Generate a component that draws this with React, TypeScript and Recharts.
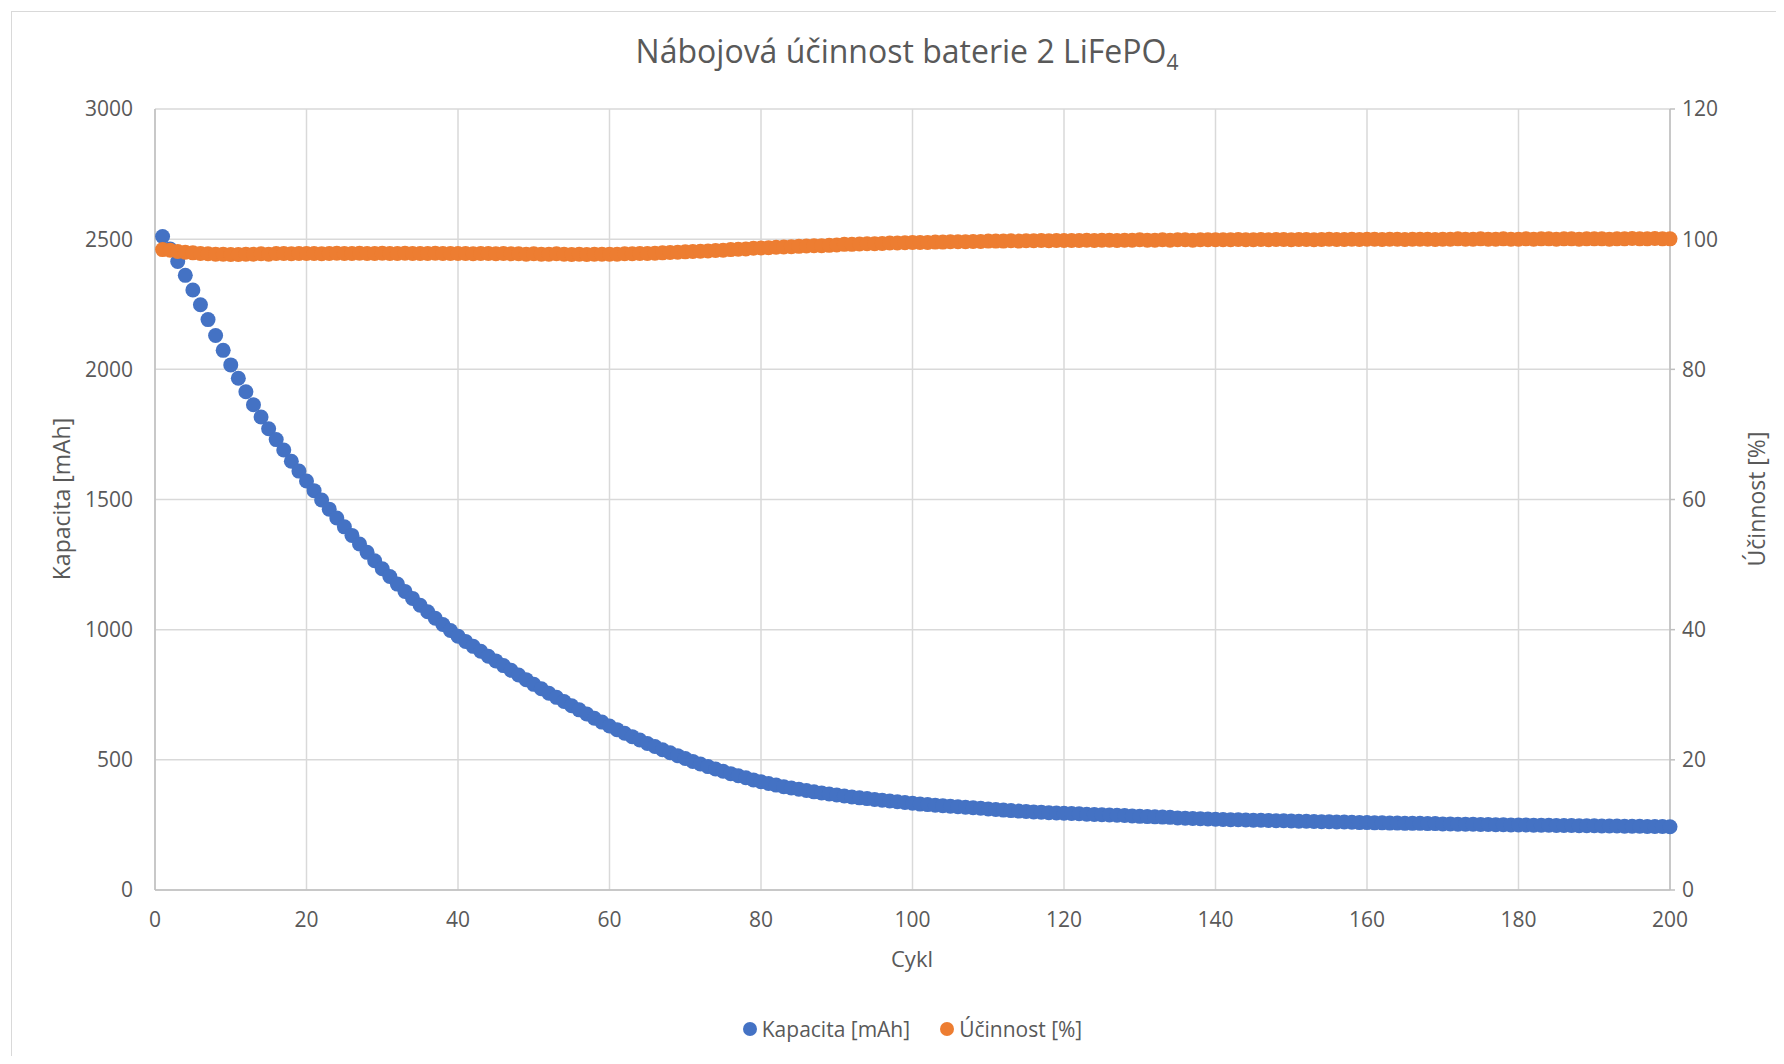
import { ScatterChart, Scatter, XAxis, YAxis, CartesianGrid, Label } from "recharts";

const cycles = Array.from({ length: 200 }, (_, i) => i + 1);

const capacity = [
  2510, 2462, 2414, 2361, 2305, 2248, 2191, 2130, 2073, 2017,
  1966, 1914, 1864, 1817, 1772, 1730, 1690, 1647, 1609, 1571,
  1534, 1498, 1463, 1429, 1395, 1362, 1329, 1297, 1265, 1234,
  1204, 1175, 1147, 1120, 1094, 1069, 1044, 1020, 997, 975,
  955, 936, 917, 898, 880, 862, 844, 826, 808, 790,
  773, 756, 740, 724, 708, 692, 676, 660, 645, 630,
  616, 602, 589, 576, 563, 551, 539, 527, 516, 505,
  494, 484, 474, 465, 456, 447, 439, 431, 423, 416,
  409, 403, 397, 392, 387, 382, 377, 373, 369, 365,
  361, 357, 354, 351, 348, 345, 342, 339, 336, 333,
  330, 328, 326, 324, 322, 320, 318, 316, 314, 311,
  309, 307, 305, 303, 302, 300, 299, 297, 296, 295,
  294, 293, 291, 290, 289, 288, 287, 286, 284, 283,
  282, 281, 280, 279, 277, 276, 275, 274, 273, 272,
  271, 270, 270, 269, 268, 268, 267, 266, 266, 265,
  264, 264, 263, 262, 262, 261, 261, 260, 259, 259,
  258, 258, 257, 257, 256, 256, 256, 255, 255, 254,
  254, 253, 253, 253, 252, 252, 251, 251, 250, 250,
  250, 249, 249, 249, 248, 248, 248, 247, 247, 247,
  246, 246, 246, 245, 245, 245, 244, 244, 244, 243,
];

const efficiency = [
  98.4, 98.3, 98.1, 98.0, 97.9, 97.8, 97.75, 97.7, 97.7, 97.65,
  97.65, 97.7, 97.7, 97.75, 97.7, 97.8, 97.8, 97.75, 97.8, 97.8,
  97.8, 97.75, 97.8, 97.85, 97.8, 97.8, 97.85, 97.8, 97.8, 97.85,
  97.8, 97.8, 97.85, 97.8, 97.8, 97.8, 97.85, 97.8, 97.8, 97.8,
  97.8, 97.75, 97.8, 97.8, 97.75, 97.8, 97.75, 97.75, 97.7, 97.75,
  97.7, 97.7, 97.75, 97.7, 97.65, 97.7, 97.65, 97.7, 97.7, 97.7,
  97.7, 97.75, 97.75, 97.8, 97.8, 97.85, 97.9, 97.95, 98.0, 98.05,
  98.1, 98.15, 98.2, 98.25, 98.3, 98.4, 98.45, 98.5, 98.6, 98.65,
  98.7, 98.75, 98.8, 98.85, 98.9, 98.95, 99.0, 99.0, 99.05, 99.1,
  99.2, 99.2, 99.25, 99.3, 99.3, 99.35, 99.4, 99.4, 99.45, 99.5,
  99.5, 99.5, 99.55, 99.55, 99.6, 99.6, 99.6, 99.65, 99.65, 99.7,
  99.7, 99.7, 99.75, 99.7, 99.75, 99.75, 99.8, 99.75, 99.8, 99.8,
  99.8, 99.8, 99.85, 99.8, 99.85, 99.85, 99.8, 99.85, 99.85, 99.9,
  99.85, 99.85, 99.9, 99.85, 99.9, 99.9, 99.85, 99.9, 99.9, 99.9,
  99.9, 99.9, 99.95, 99.9, 99.9, 99.95, 99.9, 99.95, 99.95, 99.9,
  99.95, 99.95, 99.9, 99.95, 100.0, 99.95, 99.95, 100.0, 99.95, 100.0,
  100.0, 99.95, 100.0, 100.0, 99.95, 100.0, 100.0, 100.0, 99.95, 100.0,
  100.0, 100.05, 100.0, 100.0, 100.05, 100.0, 100.0, 100.05, 100.0, 100.0,
  100.05, 100.0, 100.05, 100.05, 100.0, 100.05, 100.05, 100.0, 100.05, 100.05,
  100.05, 100.0, 100.05, 100.05, 100.1, 100.05, 100.05, 100.1, 100.05, 100.05,
];

const xTicks = [0, 20, 40, 60, 80, 100, 120, 140, 160, 180, 200];
const capTicks = [0, 500, 1000, 1500, 2000, 2500, 3000];
const effTicks = [0, 20, 40, 60, 80, 100, 120];

const BLUE = "#4472C4";
const ORANGE = "#ED7D31";
const TEXT = "#595959";
const FONT = "'Open Sans', sans-serif";

const capData = cycles.map((c, i) => ({ x: c, y: capacity[i] }));
const effData = cycles.map((c, i) => ({ x: c, y: efficiency[i] }));

const dot = (color: string) => (props: any) =>
  <circle cx={props.cx} cy={props.cy} r={7.5} fill={color} />;

const tickStyle = { fill: TEXT, fontSize: 21, fontFamily: FONT };

export default function App() {
  return (
    <div
      style={{
        position: "relative",
        width: 1784,
        height: 1064,
        margin: -8,
        overflow: "hidden",
        background: "#fff",
        fontFamily: FONT,
      }}
    >
      <div
        style={{
          position: "absolute",
          left: 11,
          top: 11,
          width: 1800,
          height: 1100,
          border: "1.5px solid #d9d9d9",
        }}
      />
      <div
        style={{
          position: "absolute",
          top: 29,
          left: 0,
          width: 1814,
          textAlign: "center",
          fontSize: 32,
          color: TEXT,
        }}
      >
        Nábojová účinnost baterie 2 LiFePO<sub style={{ fontSize: 21 }}>4</sub>
      </div>

      <div style={{ position: "absolute", left: 0, top: 0 }}>
        <ScatterChart
          width={1784}
          height={1064}
          margin={{ top: 109, right: 0, bottom: 114, left: 0 }}
        >
          <CartesianGrid yAxisId="left" stroke="#d9d9d9" strokeWidth={1.5} verticalValues={xTicks} />
          <XAxis
            type="number"
            dataKey="x"
            domain={[0, 200]}
            ticks={xTicks}
            height={60}
            axisLine={{ stroke: "#bfbfbf", strokeWidth: 1.5 }}
            tickLine={false}
            tickSize={0}
            tickMargin={22}
            tick={tickStyle}
          >
            <Label
              content={() => (
                <text x={912} y={967} textAnchor="middle" fill={TEXT} fontSize={22} fontFamily={FONT}>
                  Cykl
                </text>
              )}
            />
          </XAxis>
          <YAxis
            yAxisId="left"
            type="number"
            dataKey="y"
            domain={[0, 3000]}
            ticks={capTicks}
            width={155}
            axisLine={{ stroke: "#bfbfbf", strokeWidth: 1.5 }}
            tickLine={false}
            tickSize={0}
            tickMargin={22}
            tick={tickStyle}
          >
            <Label
              content={() => (
                <text
                  x={61}
                  y={499}
                  transform="rotate(-90 61 499)"
                  textAnchor="middle"
                  dominantBaseline="central"
                  fill={TEXT}
                  fontSize={23}
                  fontFamily={FONT}
                >
                  Kapacita [mAh]
                </text>
              )}
            />
          </YAxis>
          <YAxis
            yAxisId="right"
            orientation="right"
            type="number"
            dataKey="y"
            domain={[0, 120]}
            ticks={effTicks}
            width={114}
            axisLine={{ stroke: "#bfbfbf", strokeWidth: 1.5 }}
            tickLine={{ stroke: "#bfbfbf", strokeWidth: 1.5 }}
            tickSize={5}
            tickMargin={7}
            tick={tickStyle}
          >
            <Label
              content={() => (
                <text
                  x={1756}
                  y={499}
                  transform="rotate(-90 1756 499)"
                  textAnchor="middle"
                  dominantBaseline="central"
                  fill={TEXT}
                  fontSize={23}
                  fontFamily={FONT}
                >
                  Účinnost [%]
                </text>
              )}
            />
          </YAxis>
          <Scatter
            name="Kapacita [mAh]"
            data={capData}
            yAxisId="left"
            fill={BLUE}
            shape={dot(BLUE)}
            isAnimationActive={false}
          />
          <Scatter
            name="Účinnost [%]"
            data={effData}
            yAxisId="right"
            fill={ORANGE}
            shape={dot(ORANGE)}
            isAnimationActive={false}
          />
        </ScatterChart>
      </div>

      <div
        style={{
          position: "absolute",
          left: 155,
          width: 1515,
          top: 1015,
          display: "flex",
          justifyContent: "center",
          alignItems: "center",
          fontSize: 21,
          color: TEXT,
          gap: 30,
        }}
      >
        {[
          ["Kapacita [mAh]", BLUE],
          ["Účinnost [%]", ORANGE],
        ].map(([label, color]) => (
          <div key={label} style={{ display: "flex", alignItems: "center", gap: 5 }}>
            <span style={{ width: 14, height: 14, borderRadius: 7, background: color, display: "inline-block" }} />
            <span>{label}</span>
          </div>
        ))}
      </div>
    </div>
  );
}
